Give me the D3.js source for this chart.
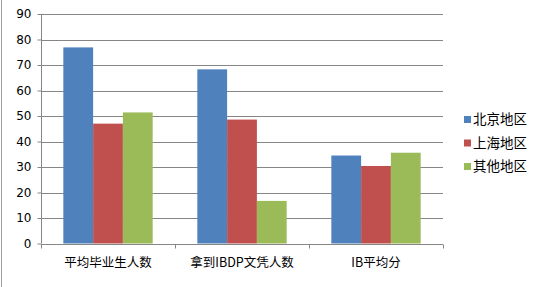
<!DOCTYPE html>
<html>
<head>
<meta charset="utf-8">
<script src="https://cdn.jsdelivr.net/npm/d3@7"></script>
<style>
  body { margin: 0; background: #fff; }
  text { font-family: "Noto Sans CJK SC", "DejaVu Sans", sans-serif; fill: #000; }
</style>
</head>
<body>
<div id="chart"></div>
<script>
var categories = ["平均毕业生人数", "拿到IBDP文凭人数", "IB平均分"];
var seriesNames = ["北京地区", "上海地区", "其他地区"];
var beijing = [76.9, 68.3, 34.5];
var shanghai = [47, 48.6, 30.4];
var others = [51.4, 16.7, 35.6];
var yTicks = [0, 10, 20, 30, 40, 50, 60, 70, 80, 90];
var colors = ["#4f81bd", "#c0504d", "#9bbb59"];

var W = 542, H = 287;
var m = {left: 41, top: 14, right: 99, bottom: 44};
var series = [beijing, shanghai, others];

var svg = d3.select("#chart").append("svg")
    .attr("width", W).attr("height", H);

// left border of the chart box
svg.append("line")
    .attr("x1", 1.5).attr("x2", 1.5).attr("y1", 0).attr("y2", H)
    .attr("stroke", "#a0a0a0");

var x = d3.scaleBand().domain(categories).range([m.left, W - m.right]);
var inner = d3.scaleBand().domain(d3.range(3)).range([0, x.bandwidth()])
    .paddingInner(0).paddingOuter(0.75);
var y = d3.scaleLinear().domain([0, 90]).range([H - m.bottom + 0.5, m.top]);

// grid
svg.append("g").selectAll("line").data(yTicks.slice(1)).join("line")
    .attr("x1", m.left).attr("x2", W - m.right)
    .attr("y1", function(d){ return Math.round(y(d)) + 0.5; })
    .attr("y2", function(d){ return Math.round(y(d)) + 0.5; })
    .attr("stroke", "#868686");

// bars
series.forEach(function(vals, si){
  svg.append("g").selectAll("rect").data(vals).join("rect")
      .attr("x", function(d, i){ return x(categories[i]) + inner(si); })
      .attr("width", inner.bandwidth())
      .attr("y", function(d){ return y(d); })
      .attr("height", function(d){ return y(0) - y(d); })
      .attr("fill", colors[si]);
});

// y axis
var yAxis = svg.append("g")
    .attr("transform", "translate(" + (m.left + 0.5) + ",0)")
    .call(d3.axisLeft(y).tickValues(yTicks).tickSize(4).tickPadding(6));
yAxis.select(".domain").attr("stroke", "#868686").attr("d", "M0," + m.top + "V" + y(0));
yAxis.selectAll(".tick line").attr("stroke", "#868686");
yAxis.selectAll(".tick text").style("font-size", "12px")
    .style("font-family", "'DejaVu Sans', sans-serif");

// x axis
var xAxis = svg.append("g")
    .attr("transform", "translate(0," + (Math.round(y(0)) + 0.5) + ")")
    .call(d3.axisBottom(x).tickSize(0).tickPadding(14));
xAxis.select(".domain").attr("stroke", "#868686").attr("d", "M" + m.left + ",0H" + (W - m.right));
xAxis.selectAll(".tick text").style("font-size", "12.5px");
xAxis.append("g").selectAll("line")
    .data(d3.range(categories.length + 1)).join("line")
    .attr("x1", function(i){ return Math.round(m.left + i * x.step()) + 0.5; })
    .attr("x2", function(i){ return Math.round(m.left + i * x.step()) + 0.5; })
    .attr("y1", 0).attr("y2", 4)
    .attr("stroke", "#868686");

// legend
var legend = svg.append("g").attr("transform", "translate(464,113)");
var item = legend.selectAll("g").data(seriesNames).join("g")
    .attr("transform", function(d, i){ return "translate(0," + i * 23.5 + ")"; });
item.append("rect").attr("width", 7).attr("height", 7).attr("y", 3)
    .attr("fill", function(d, i){ return colors[i]; });
item.append("text").attr("x", 9).attr("y", 6.5).attr("dy", "0.35em")
    .style("font-size", "13.5px").text(function(d){ return d; });
</script>
</body>
</html>
